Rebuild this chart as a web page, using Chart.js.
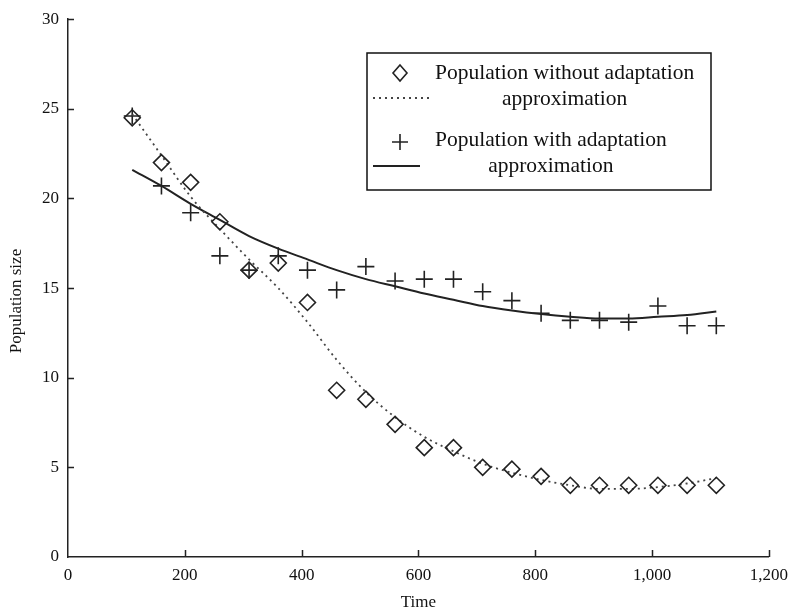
<!DOCTYPE html>
<html>
  <head>
    <script src="https://cdn.jsdelivr.net/npm/chart.js@4/dist/chart.umd.js"></script>
    <style>
      body { margin: 0; background: #fff; }
    </style>
  </head>

  <body>
    <canvas id="graph" width="796" height="615"></canvas>
    <script>
      // sampling times
      const times = [110, 160, 210, 260, 310, 360, 410, 460, 510, 560, 610,
                     660, 710, 760, 810, 860, 910, 960, 1010, 1060, 1110];

      // observed population sizes
      const withoutAdaptation = [24.5, 22.0, 20.9, 18.7, 16.0, 16.4, 14.2, 9.3, 8.8, 7.4, 6.1,
                                 6.1, 5.0, 4.9, 4.5, 4.0, 4.0, 4.0, 4.0, 4.0, 4.0];
      const withAdaptation = [24.6, 20.7, 19.2, 16.8, 16.0, 16.8, 16.0, 14.9, 16.2, 15.4, 15.5,
                              15.5, 14.8, 14.3, 13.6, 13.2, 13.2, 13.1, 14.0, 12.9, 12.9];

      // fitted approximations
      const fitWithout = [24.7, 22.4, 20.1, 18.3, 16.6, 15.0, 13.1, 11.0, 9.2, 7.8, 6.7,
                          5.9, 5.2, 4.7, 4.3, 4.0, 3.8, 3.8, 3.9, 4.1, 4.4];
      const fitWith = [21.6, 20.7, 19.7, 18.8, 17.9, 17.2, 16.6, 16.0, 15.5, 15.1, 14.7,
                       14.35, 14.0, 13.75, 13.55, 13.4, 13.3, 13.3, 13.4, 13.5, 13.7];

      const legendLabels = [
        ['Population without adaptation', 'approximation'],
        ['Population with adaptation', 'approximation'],
      ];
      const yTitle = 'Population size';

      const pts = (ys) => ys.map((y, i) => ({ x: times[i], y: y }));
      const serif = 'Liberation Serif';

      // inward tick marks on both axes, plus the y axis title
      const innerTicks = {
        id: 'innerTicks',
        afterDraw(chart) {
          const ctx = chart.ctx;
          const xs = chart.scales.x, ys = chart.scales.y;
          ctx.save();
          ctx.strokeStyle = '#222';
          ctx.lineWidth = 1.5;
          ctx.beginPath();
          xs.ticks.forEach((t) => {
            if (t.value === 0) return;
            const px = Math.round(xs.getPixelForValue(t.value)) + 0.5;
            ctx.moveTo(px, ys.bottom);
            ctx.lineTo(px, ys.bottom - 7);
          });
          ys.ticks.forEach((t) => {
            if (t.value === 0) return;
            const py = Math.round(ys.getPixelForValue(t.value)) + 0.5;
            ctx.moveTo(xs.left, py);
            ctx.lineTo(xs.left + 6, py);
          });
          ctx.stroke();

          ctx.translate(17, 301);
          ctx.rotate(-Math.PI / 2);
          ctx.font = '17px ' + serif;
          ctx.fillStyle = '#111';
          ctx.textAlign = 'center';
          ctx.textBaseline = 'middle';
          ctx.fillText(yTitle, 0, 0);
          ctx.restore();
        },
      };

      // boxed legend with two-line labels
      const boxLegend = {
        id: 'boxLegend',
        afterDraw(chart) {
          const ctx = chart.ctx;
          ctx.save();
          ctx.strokeStyle = '#111';
          ctx.lineWidth = 1.5;
          ctx.strokeRect(367, 53, 344, 137);

          ctx.font = '21.5px ' + serif;
          ctx.fillStyle = '#111';
          ctx.textAlign = 'center';
          ctx.textBaseline = 'alphabetic';
          const rows = [79, 146];
          legendLabels.forEach((lines, i) => {
            const w = Math.max(...lines.map((l) => ctx.measureText(l).width));
            const cx = 435 + w / 2;
            ctx.fillText(lines[0], cx, rows[i]);
            ctx.fillText(lines[1], cx, rows[i] + 26);
          });

          // diamond marker
          ctx.lineWidth = 1.6;
          ctx.strokeStyle = '#222';
          ctx.beginPath();
          ctx.moveTo(400, 65); ctx.lineTo(407, 73); ctx.lineTo(400, 81); ctx.lineTo(393, 73);
          ctx.closePath();
          ctx.stroke();
          // dotted sample
          ctx.setLineDash([2, 4]);
          ctx.strokeStyle = '#444';
          ctx.lineWidth = 1.8;
          ctx.beginPath();
          ctx.moveTo(373, 98); ctx.lineTo(429, 98);
          ctx.stroke();
          ctx.setLineDash([]);
          // cross marker
          ctx.strokeStyle = '#222';
          ctx.lineWidth = 1.6;
          ctx.beginPath();
          ctx.moveTo(392, 142); ctx.lineTo(408, 142);
          ctx.moveTo(400, 134); ctx.lineTo(400, 150);
          ctx.stroke();
          // solid sample
          ctx.lineWidth = 2;
          ctx.beginPath();
          ctx.moveTo(373, 166); ctx.lineTo(420, 166);
          ctx.stroke();
          ctx.restore();
        },
      };

      new Chart(document.getElementById('graph').getContext('2d'), {
        type: 'scatter',
        plugins: [innerTicks, boxLegend],
        data: {
          datasets: [
            {
              label: 'Population without adaptation',
              data: pts(withoutAdaptation),
              pointStyle: 'rectRot',
              pointRadius: 8,
              pointBorderWidth: 1.6,
              pointBorderColor: '#222',
              pointBackgroundColor: 'rgba(0,0,0,0)',
              showLine: false,
            },
            {
              label: 'approximation',
              data: pts(fitWithout),
              showLine: true,
              pointRadius: 0,
              borderColor: '#444',
              borderWidth: 1.8,
              borderDash: [2, 4],
              cubicInterpolationMode: 'monotone',
            },
            {
              label: 'Population with adaptation',
              data: pts(withAdaptation),
              pointStyle: 'cross',
              pointRadius: 8.5,
              pointBorderWidth: 1.6,
              pointBorderColor: '#222',
              showLine: false,
            },
            {
              label: 'approximation',
              data: pts(fitWith),
              showLine: true,
              pointRadius: 0,
              borderColor: '#222',
              borderWidth: 2,
              cubicInterpolationMode: 'monotone',
            },
          ],
        },
        options: {
          responsive: false,
          animation: false,
          layout: { padding: { top: 15, right: 23, left: 0, bottom: 0 } },
          plugins: {
            legend: { display: false },
            tooltip: { enabled: false },
          },
          scales: {
            x: {
              type: 'linear',
              min: 0,
              max: 1200,
              ticks: {
                stepSize: 200,
                color: '#111',
                padding: 8,
                font: { family: serif, size: 17 },
              },
              grid: { display: false, drawTicks: false },
              border: { display: true, color: '#222', width: 1.5 },
              title: {
                display: true,
                text: 'Time',
                color: '#111',
                font: { family: serif, size: 17 },
                padding: { top: 0, bottom: 2 },
              },
              afterFit(scale) { scale.height = 58; },
            },
            y: {
              min: 0,
              max: 30,
              ticks: {
                stepSize: 5,
                color: '#111',
                padding: 9,
                font: { family: serif, size: 17 },
              },
              grid: { display: false, drawTicks: false },
              border: { display: true, color: '#222', width: 1.5 },
              afterFit(scale) { scale.width = 68; },
            },
          },
        },
      });
    </script>
  </body>
</html>
